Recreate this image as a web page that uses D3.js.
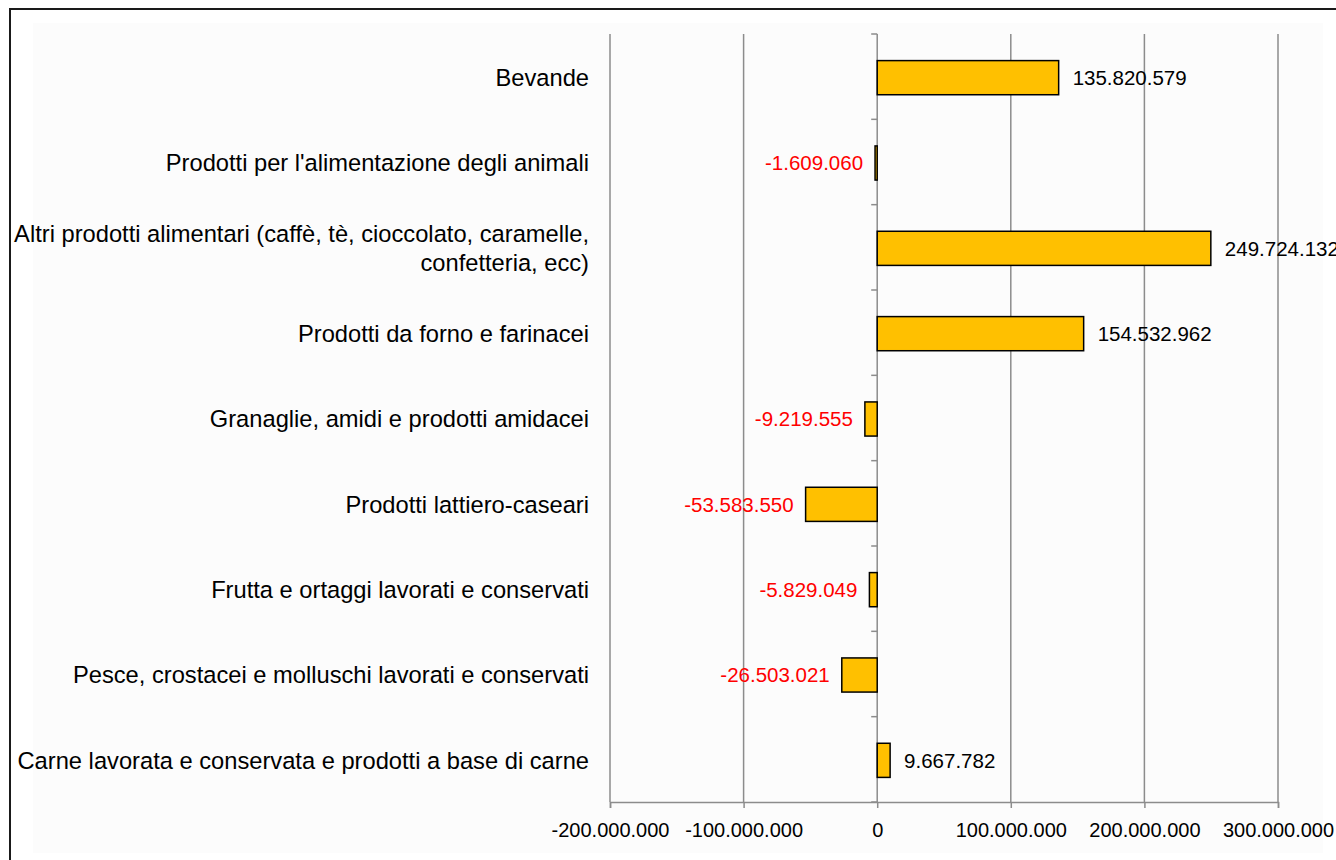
<!DOCTYPE html>
<html>
<head>
<meta charset="utf-8">
<script src="https://cdn.jsdelivr.net/npm/d3@7"></script>
<style>
    body { margin: 0; background: #ffffff; }
    svg { display: block; font-family: "Liberation Sans", Arial, sans-serif; }
</style>
</head>
<body>
<div id="chart"></div>
<script>
// categories, top to bottom
const categories = [
    "Bevande",
    "Prodotti per l'alimentazione degli animali",
    "Altri prodotti alimentari (caffè, tè, cioccolato, caramelle, confetteria, ecc)",
    "Prodotti da forno e farinacei",
    "Granaglie, amidi e prodotti amidacei",
    "Prodotti lattiero-caseari",
    "Frutta e ortaggi lavorati e conservati",
    "Pesce, crostacei e molluschi lavorati e conservati",
    "Carne lavorata e conservata e prodotti a base di carne"
];

const values = [
    135820579,
    -1609060,
    249724132,
    154532962,
    -9219555,
    -53583550,
    -5829049,
    -26503021,
    9667782
];

const xTicks = [-200000000, -100000000, 0, 100000000, 200000000, 300000000];

const itLocale = d3.formatLocale({
    decimal: ",",
    thousands: ".",
    grouping: [3],
    currency: ["€", ""],
    minus: "-"
});
const fmt = itLocale.format(",d");

let data = categories.map((c, i) => ({category: c, value: values[i]}));

let width = 1336, height = 860;
let plot = {left: 610, right: 1278, top: 34, bottom: 802};

let svg = d3.select("#chart")
    .append("svg")
        .attr("width", width)
        .attr("height", height);

// panel background
svg.append("rect")
    .attr("x", 33).attr("y", 23)
    .attr("width", 1290).attr("height", 830)
    .attr("fill", "#fcfcfc");

// outer frame
svg.append("path")
    .attr("d", "M10,870 L10,9 L1340,9")
    .attr("fill", "none")
    .attr("stroke", "#1a1a1a")
    .attr("stroke-width", 2);

let x = d3.scaleLinear()
    .domain([xTicks[0], xTicks[xTicks.length - 1]])
    .range([plot.left, plot.right]);

let y = d3.scaleBand()
    .domain(categories)
    .range([plot.top, plot.bottom])
    .padding(0);

let barH = y.bandwidth() * 0.4;

// vertical gridlines
svg.append("g")
    .selectAll("line")
    .data(xTicks)
    .enter().append("line")
        .attr("x1", d => x(d)).attr("x2", d => x(d))
        .attr("y1", plot.top).attr("y2", plot.bottom)
        .attr("stroke", "#8c8c8c")
        .attr("stroke-width", 1.5);

// x axis
let xAxis = d3.axisBottom(x)
    .tickValues(xTicks)
    .tickFormat(fmt)
    .tickSize(6)
    .tickPadding(15);

let gx = svg.append("g")
    .attr("transform", "translate(0," + plot.bottom + ")")
    .call(xAxis);
gx.select(".domain").attr("stroke", "#8c8c8c").attr("stroke-width", 1.5);
gx.selectAll(".tick line").attr("stroke", "#8c8c8c").attr("stroke-width", 1.5);
gx.selectAll(".tick text")
    .attr("fill", "#000")
    .style("font-size", "20px")
    .style("font-family", "'Liberation Sans', Arial, sans-serif");

// category ticks on the zero line
let bounds = categories.map(c => y(c)).concat([plot.bottom]);
svg.append("g")
    .selectAll("line")
    .data(bounds)
    .enter().append("line")
        .attr("x1", x(0) - 6).attr("x2", x(0))
        .attr("y1", d => d).attr("y2", d => d)
        .attr("stroke", "#8c8c8c")
        .attr("stroke-width", 1.5);

// bars
svg.append("g")
    .selectAll("rect")
    .data(data)
    .enter().append("rect")
        .attr("x", d => x(Math.min(0, d.value)))
        .attr("width", d => Math.abs(x(d.value) - x(0)))
        .attr("y", d => y(d.category) + y.bandwidth() / 2 - barH / 2 + 1)
        .attr("height", barH)
        .attr("fill", "#FFC000")
        .attr("stroke", "#000")
        .attr("stroke-width", 1.5);

// value labels
svg.append("g")
    .selectAll("text")
    .data(data)
    .enter().append("text")
        .attr("x", d => d.value >= 0 ? x(d.value) + 14 : x(d.value) - 12)
        .attr("y", d => y(d.category) + y.bandwidth() / 2 + 1)
        .attr("dy", "0.35em")
        .attr("text-anchor", d => d.value >= 0 ? "start" : "end")
        .attr("fill", d => d.value >= 0 ? "#000" : "#ff0000")
        .style("font-size", "20.5px")
        .text(d => fmt(d.value));

// category labels, wrapped when too long
let labels = svg.append("g")
    .selectAll("text")
    .data(data)
    .enter().append("text")
        .attr("x", 589)
        .attr("text-anchor", "end")
        .attr("fill", "#000")
        .style("font-size", "23.7px")
        .text(d => d.category);

labels.each(function(d) {
    let t = d3.select(this);
    let words = d.category.split(" ");
    let lines = [], line = [];
    t.text(null);
    let probe = t.append("tspan");
    words.forEach(w => {
        line.push(w);
        probe.text(line.join(" "));
        if (probe.node().getComputedTextLength() > 590 && line.length > 1) {
            line.pop();
            lines.push(line.join(" "));
            line = [w];
        }
    });
    lines.push(line.join(" "));
    probe.remove();
    let lh = 29;
    let cy = y(d.category) + y.bandwidth() / 2 + 1 - (lines.length - 1) * lh / 2;
    lines.forEach((l, i) => {
        t.append("tspan")
            .attr("x", 589)
            .attr("y", cy + i * lh)
            .attr("dy", "0.35em")
            .text(l);
    });
});
</script>
</body>
</html>
